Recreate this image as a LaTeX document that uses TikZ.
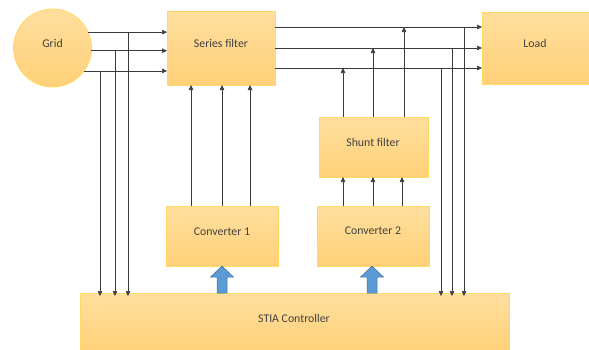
\documentclass[tikz,border=0pt]{standalone}
\usepackage{fontspec}
\setmainfont{Carlito}
\usetikzlibrary{arrows.meta,calc}
\definecolor{boxtop}{HTML}{FFDF9E}
\definecolor{boxbot}{HTML}{FFD078}
\definecolor{boxline}{HTML}{FFD966}
\definecolor{wire}{HTML}{3A3A3A}
\definecolor{blockfill}{HTML}{5B9BD5}
\definecolor{blockline}{HTML}{41719C}
\definecolor{txt}{HTML}{404040}
\begin{document}
\begin{tikzpicture}[x=1pt,y=-1pt,
  blk/.style={draw=boxline,line width=0.8pt,top color=boxtop,bottom color=boxbot,inner sep=0pt,outer sep=0pt},
  lbl/.style={text=txt,font=\fontsize{11.8}{13}\selectfont,inner sep=0pt},
  wireline/.style={draw=wire,line width=0.6pt},
  arr/.style={wireline,-{Triangle[width=4.5pt,length=5pt]}},
  bigarrow/.style={fill=blockfill,draw=blockline,line width=0.5pt}]
\useasboundingbox (0,0) rectangle (589,349);
\clip (0,0) rectangle (589,349);
% blocks
\node[blk,circle,minimum size=78pt] (grid) at (52.5,48) {};
\node[blk,minimum width=108pt,minimum height=74pt] (sf) at (221,48) {};
\node[blk,minimum width=108pt,minimum height=72pt] (load) at (536,48) {};
\node[blk,minimum width=109pt,minimum height=60pt] (sh) at (373.5,147) {};
\node[blk,minimum width=112pt,minimum height=60pt] (c1) at (222,236) {};
\node[blk,minimum width=112pt,minimum height=60pt] (c2) at (373,236) {};
\node[blk,minimum width=429pt,minimum height=58pt] (ctrl) at (294.5,322) {};
% labels
\node[lbl] (tgrid) at (52.5,43) {Grid};
\node[lbl] (tsf) at (221,43) {Series filter};
\node[lbl] (tload) at (535,43) {Load};
\node[lbl] (tsh) at (373,142) {Shunt filter};
\node[lbl] (tc1) at (222,232) {Converter 1};
\node[lbl] (tc2) at (373,231) {Converter 2};
\node[lbl] (tctrl) at (294,318) {STIA Controller};
% grid to series filter
\coordinate (ga) at (grid.24.2);
\coordinate (gb) at (grid.-4.4);
\coordinate (gc) at (grid.-36.1);
\draw[arr] (ga) -- (ga -| sf.west);
\draw[arr] (gb) -- (gb -| sf.west);
\draw[arr] (gc) -- (gc -| sf.west);
% drops from grid lines to controller
\coordinate (da) at (128,32);
\coordinate (db) at (115,51);
\coordinate (dc) at (100,71);
\draw[arr] (da) -- ([yshift=-3pt]da |- ctrl.north);
\draw[arr] (db) -- ([yshift=-3pt]db |- ctrl.north);
\draw[arr] (dc) -- ([yshift=-3pt]dc |- ctrl.north);
% series filter to load
\coordinate (la) at (275,27);
\coordinate (lb) at (275,48);
\coordinate (lc) at (275,68);
\draw[arr] (la) -- (la -| load.west);
\draw[arr] (lb) -- (lb -| load.west);
\draw[arr] (lc) -- (lc -| load.west);
% drops from load lines to controller
\coordinate (ra) at (464,27);
\coordinate (rb) at (452,48);
\coordinate (rc) at (441,68);
\draw[arr] (ra) -- ([yshift=-3pt]ra |- ctrl.north);
\draw[arr] (rb) -- ([yshift=-3pt]rb |- ctrl.north);
\draw[arr] (rc) -- ([yshift=-3pt]rc |- ctrl.north);
% converter 1 to series filter
\coordinate (ca) at (191,0);
\coordinate (cb) at (222,0);
\coordinate (cc) at (250,0);
\draw[arr] (ca |- c1.north) -- (ca |- sf.south);
\draw[arr] (cb |- c1.north) -- (cb |- sf.south);
\draw[arr] (cc |- c1.north) -- (cc |- sf.south);
% shunt filter to lines
\coordinate (sa) at (343,68);
\coordinate (sb) at (373,48);
\coordinate (sc) at (404,27);
\draw[arr] (sa |- sh.north) -- (sa);
\draw[arr] (sb |- sh.north) -- (sb);
\draw[arr] (sc |- sh.north) -- (sc);
% converter 2 to shunt filter
\coordinate (ka) at (343,0);
\coordinate (kb) at (373,0);
\coordinate (kc) at (402,0);
\draw[arr] (ka |- c2.north) -- (ka |- sh.south);
\draw[arr] (kb |- c2.north) -- (kb |- sh.south);
\draw[arr] (kc |- c2.north) -- (kc |- sh.south);
% block arrows from controller
\coordinate (b1) at (c1.south |- ctrl.north);
\coordinate (b2) at (372,293);
\foreach \p in {b1,b2}{
  \draw[bigarrow] ($(\p)+(-5,0)$) -- ++(0,-16) -- ++(-6.5,0) -- ++(11.5,-11) -- ++(11.5,11) -- ++(-6.5,0) -- ++(0,16) -- cycle;
}
\end{tikzpicture}
\end{document}
